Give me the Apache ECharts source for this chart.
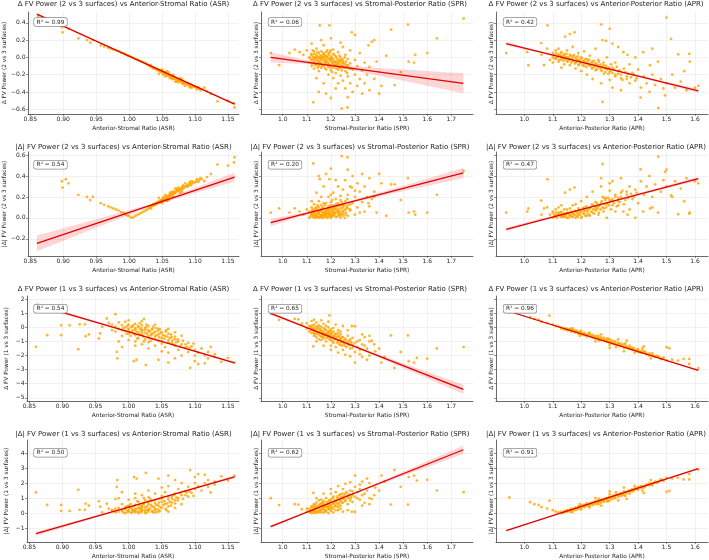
<!DOCTYPE html>
<html>
<head>
<meta charset="utf-8">
<script src="https://cdn.jsdelivr.net/npm/echarts@6/dist/echarts.min.js"></script>
<style>
html, body { margin: 0; padding: 0; background: #fff; }
#chart { width: 709px; height: 560px; }
</style>
</head>
<body>
<div id="chart"></div>
<script>
// ---- data ----
// x tick labels per column, y tick labels per row
const xTicksAsr = [0.85, 0.9, 0.95, 1.0, 1.05, 1.1, 1.15];
const xTicksSpr = [1.0, 1.1, 1.2, 1.3, 1.4, 1.5, 1.6, 1.7];
const xTicksApr = [1.0, 1.1, 1.2, 1.3, 1.4, 1.5, 1.6];
const yTicks23 = [-0.6, -0.4, -0.2, 0.0, 0.2, 0.4];
const yTicksAbs23 = [-0.2, 0.0, 0.2, 0.4, 0.6];
const yTicks13 = [-5, -4, -3, -2, -1, 0, 1, 2];
const yTicksAbs13 = [-1, 0, 1, 2, 3, 4];

const rowNames = ["Δ FV Power (2 vs 3 surfaces)", "|Δ| FV Power (2 vs 3 surfaces)",
  "Δ FV Power (1 vs 3 surfaces)", "|Δ| FV Power (1 vs 3 surfaces)"];
const colNames = ["Anterior-Stromal Ratio (ASR)", "Stromal-Posterior Ratio (SPR)", "Anterior-Posterior Ratio (APR)"];
const r2 = ["0.99", "0.06", "0.42", "0.54", "0.20", "0.47", "0.54", "0.65", "0.96", "0.50", "0.62", "0.91"];

// Δ FV power (2 vs 3 surfaces) against each ratio
const asr23 = [[0.862,0.48],[0.898,0.35],[0.899,0.29],[0.904,0.37],[0.908,0.33],[0.923,0.22],[0.936,0.2],[0.941,0.17],[0.945,0.2],[0.957,0.14],
  [0.962,0.125],[0.968,0.11],[0.972,0.1],[0.976,0.09],[0.98,0.08],[0.984,0.07],[0.988,0.055],[0.992,0.045],[0.995,0.03],[0.998,0.02],
  [1.001,0.012],[1.004,0.0],[1.007,-0.008],[1.01,-0.02],[1.013,-0.03],[1.016,-0.04],[1.019,-0.05],[1.022,-0.06],[1.025,-0.07],[1.027,-0.08],
  [1.03,-0.09],[1.032,-0.1],[1.034,-0.11],[1.036,-0.12],[1.038,-0.12],[1.04,-0.135],[1.041,-0.13],[1.043,-0.15],[1.044,-0.14],[1.046,-0.16],
  [1.047,-0.15],[1.049,-0.17],[1.05,-0.18],[1.052,-0.17],[1.053,-0.19],[1.055,-0.18],[1.056,-0.2],[1.058,-0.21],[1.06,-0.2],[1.061,-0.22],
  [1.063,-0.23],[1.065,-0.22],[1.066,-0.24],[1.068,-0.25],[1.07,-0.24],[1.072,-0.26],[1.074,-0.27],[1.076,-0.26],[1.078,-0.28],[1.08,-0.29],
  [1.082,-0.28],[1.085,-0.3],[1.088,-0.31],[1.09,-0.32],[1.093,-0.31],[1.096,-0.33],[1.1,-0.34],[1.103,-0.37],[1.106,-0.36],[1.11,-0.37],
  [1.114,-0.35],[1.118,-0.39],[1.124,-0.42],[1.134,-0.51],[1.15,-0.5],[1.159,-0.53],[1.16,-0.58],[1.045,-0.19],[1.055,-0.22],[1.065,-0.25],
  [1.075,-0.29],[1.085,-0.33],[1.095,-0.35],[1.07,-0.28],[1.05,-0.14],[1.06,-0.17],[1.08,-0.25]];
const asr23Core = [[1.031,-0.1],[1.033,-0.09],[1.035,-0.115],[1.037,-0.13],[1.039,-0.125],[1.042,-0.14],[1.048,-0.165],[1.051,-0.16],[1.054,-0.175],[1.057,-0.19],
  [1.059,-0.2],[1.062,-0.21],[1.064,-0.215],[1.067,-0.23],[1.069,-0.235],[1.071,-0.25],[1.073,-0.255],[1.077,-0.27],[1.079,-0.27],[1.081,-0.3],
  [1.083,-0.29],[1.087,-0.3],[1.089,-0.3],[1.092,-0.33],[1.094,-0.32],[1.098,-0.34],[1.102,-0.35],[1.105,-0.345],[1.108,-0.38],[1.052,-0.2],
  [1.062,-0.24],[1.072,-0.28],[1.082,-0.31],[1.092,-0.345],[1.057,-0.16],[1.067,-0.2],[1.077,-0.24]];

const spr23 = [[0.951,0.05],[0.985,-0.09],[1.028,0.05],[1.05,0.09],[1.07,0.06],[1.086,0.03],[1.1,0.08],[1.127,-0.52],[1.15,-0.4],[1.154,0.37],
  [1.194,0.37],[1.2,-0.47],[1.245,-0.59],[1.269,-0.58],[1.287,0.29],[1.3,0.26],[1.356,0.14],[1.37,0.18],[1.38,0.2],[1.41,-0.33],
  [1.43,0.02],[1.45,0.32],[1.465,-0.32],[1.49,-0.17],[1.52,0.38],[1.523,-0.05],[1.545,-0.06],[1.55,0.03],[1.6,0.05],[1.64,0.22],[1.751,0.45],
  [1.11,0.0],[1.11,-0.06],[1.12,0.04],[1.12,-0.03],[1.12,-0.1],[1.13,0.07],[1.13,0.0],[1.13,-0.05],[1.13,-0.13],[1.14,0.03],
  [1.14,-0.02],[1.14,-0.08],[1.14,0.1],[1.15,0.05],[1.15,0.0],[1.15,-0.04],[1.15,-0.1],[1.15,-0.16],[1.16,0.07],[1.16,0.02],
  [1.16,-0.02],[1.16,-0.06],[1.16,-0.12],[1.17,0.04],[1.17,0.0],[1.17,-0.04],[1.17,-0.09],[1.17,0.14],[1.18,0.06],[1.18,0.01],
  [1.18,-0.03],[1.18,-0.07],[1.18,-0.14],[1.19,0.03],[1.19,-0.01],[1.19,-0.06],[1.19,-0.11],[1.19,-0.2],[1.2,0.08],[1.2,0.0],
  [1.2,-0.04],[1.2,-0.09],[1.2,-0.15],[1.21,0.04],[1.21,-0.02],[1.21,-0.07],[1.21,-0.12],[1.21,-0.24],[1.22,0.01],[1.22,-0.05],
  [1.22,-0.1],[1.22,-0.18],[1.23,0.06],[1.23,-0.03],[1.23,-0.08],[1.23,-0.14],[1.23,-0.3],[1.24,0.0],[1.24,-0.06],[1.24,-0.12],
  [1.24,-0.21],[1.25,0.12],[1.25,-0.04],[1.25,-0.1],[1.25,-0.27],[1.26,0.03],[1.26,-0.08],[1.26,-0.16],[1.26,-0.36],[1.27,-0.02],
  [1.27,-0.12],[1.27,-0.22],[1.28,0.08],[1.28,-0.07],[1.28,-0.3],[1.29,-0.14],[1.29,-0.4],[1.3,-0.03],[1.3,-0.2],[1.31,-0.1],
  [1.31,-0.33],[1.32,0.05],[1.32,-0.25],[1.33,-0.15],[1.33,-0.42],[1.34,-0.06],[1.34,-0.3],[1.35,-0.2],[1.36,-0.11],[1.36,-0.38],
  [1.38,-0.25],[1.39,-0.05],[1.4,-0.42],[1.12,0.16],[1.16,0.2],[1.2,0.22],[1.24,0.17],[1.14,-0.24],[1.17,-0.3],[1.22,-0.36],
  [1.18,-0.42],[1.27,-0.46]];
const spr23Core = [[1.115,-0.01],[1.118,0.03],[1.122,-0.07],[1.125,0.01],[1.128,-0.02],[1.132,0.04],[1.135,-0.09],[1.138,0.0],[1.142,-0.04],[1.145,0.06],
  [1.148,-0.01],[1.152,-0.07],[1.155,0.02],[1.158,-0.03],[1.162,0.0],[1.165,-0.1],[1.168,0.05],[1.172,-0.02],[1.175,-0.06],[1.178,0.02],
  [1.182,-0.04],[1.185,0.0],[1.188,-0.09],[1.192,0.04],[1.195,-0.03],[1.198,-0.12],[1.202,0.01],[1.205,-0.06],[1.208,-0.02],[1.212,-0.09],
  [1.215,0.03],[1.218,-0.05],[1.222,-0.13],[1.225,-0.01],[1.228,-0.07],[1.232,-0.11],[1.235,0.02],[1.238,-0.04],[1.242,-0.09],[1.245,-0.15],
  [1.248,-0.02],[1.252,-0.07],[1.255,-0.12],[1.258,0.0],[1.262,-0.05],[1.265,-0.1],[1.268,-0.18],[1.13,-0.02],[1.14,0.01],[1.15,-0.06],
  [1.16,-0.01],[1.17,0.02],[1.18,-0.05],[1.19,-0.08],[1.2,-0.02],[1.21,-0.05],[1.22,-0.08],[1.23,-0.05],[1.24,-0.03],[1.25,-0.06],
  [1.16,-0.08],[1.175,-0.12],[1.185,0.08],[1.195,0.06],[1.205,-0.17],[1.145,-0.12],[1.125,0.08],[1.21,0.09],[1.27,-0.09],[1.28,-0.13]];

const apr23 = [[0.936,0.05],[1.01,0.06],[1.014,-0.09],[1.059,0.165],[1.069,-0.09],[1.081,0.37],[1.143,0.24],[1.16,0.27],[1.176,0.29],[1.27,0.38],
  [1.275,-0.515],[1.3,0.33],[1.287,0.19],[1.275,0.2],[1.31,0.16],[1.33,0.12],[1.348,0.06],[1.363,0.03],[1.39,0.0],[1.418,0.06],
  [1.442,-0.09],[1.409,-0.465],[1.471,-0.585],[1.5,0.46],[1.516,0.215],[1.541,0.035],[1.58,0.04],[1.562,-0.16],[1.582,-0.05],[1.612,-0.33],
  [1.495,-0.44],[1.489,-0.36],[1.45,0.1],[1.47,-0.05],[1.52,-0.2],[1.55,-0.28],[1.6,-0.35],[1.57,-0.38],
  [1.1,0.05],[1.1,0.0],[1.11,0.08],[1.11,-0.02],[1.12,0.03],[1.12,-0.05],[1.12,0.1],[1.13,0.01],[1.13,-0.03],[1.13,0.06],
  [1.14,-0.01],[1.14,0.04],[1.14,-0.08],[1.15,0.0],[1.15,-0.04],[1.15,0.08],[1.16,-0.02],[1.16,0.03],[1.16,-0.09],[1.17,-0.04],
  [1.17,0.01],[1.17,0.12],[1.18,-0.06],[1.18,0.0],[1.18,-0.13],[1.19,-0.03],[1.19,0.05],[1.19,-0.09],[1.2,-0.06],[1.2,0.0],
  [1.2,-0.16],[1.21,-0.04],[1.21,-0.1],[1.21,0.07],[1.22,-0.07],[1.22,-0.02],[1.22,-0.2],[1.23,-0.09],[1.23,0.02],[1.24,-0.12],
  [1.24,-0.05],[1.24,-0.25],[1.25,-0.08],[1.25,-0.15],[1.25,0.1],[1.26,-0.11],[1.26,-0.03],[1.27,-0.14],[1.27,-0.3],[1.28,-0.09],
  [1.28,-0.19],[1.29,-0.13],[1.29,0.0],[1.3,-0.17],[1.3,-0.26],[1.31,-0.12],[1.31,-0.35],[1.32,-0.2],[1.32,-0.06],[1.33,-0.16],
  [1.34,-0.24],[1.34,-0.38],[1.35,-0.13],[1.36,-0.22],[1.37,-0.3],[1.37,-0.08],[1.38,-0.18],[1.39,-0.27],[1.4,-0.14],[1.41,-0.35],
  [1.42,-0.22],[1.43,-0.3],[1.44,-0.4],[1.45,-0.2],[1.46,-0.32],[1.48,-0.25],[1.5,-0.3],[1.53,-0.35],[1.1,-0.06],[1.13,-0.12],
  [1.06,0.03],[1.08,0.1],[1.09,-0.03]];
const apr23Core = [[1.105,0.03],[1.108,-0.01],[1.112,0.05],[1.115,0.0],[1.118,0.03],[1.122,-0.03],[1.125,0.02],[1.128,0.05],[1.132,-0.01],[1.135,0.02],
  [1.138,-0.04],[1.142,0.01],[1.145,-0.02],[1.148,0.04],[1.152,-0.05],[1.155,0.0],[1.158,-0.03],[1.162,0.02],[1.165,-0.06],[1.168,-0.01],
  [1.172,-0.04],[1.175,0.03],[1.178,-0.07],[1.182,-0.02],[1.185,-0.05],[1.188,0.01],[1.192,-0.08],[1.195,-0.03],[1.198,-0.06],[1.202,-0.01],
  [1.205,-0.09],[1.208,-0.04],[1.212,-0.07],[1.215,-0.02],[1.218,-0.11],[1.222,-0.05],[1.225,-0.08],[1.228,-0.03],[1.232,-0.1],[1.235,-0.06],
  [1.238,-0.13],[1.242,-0.08],[1.245,-0.04],[1.248,-0.11],[1.252,-0.07],[1.255,-0.14],[1.258,-0.09],[1.262,-0.05],[1.265,-0.12],[1.268,-0.08],
  [1.272,-0.16],[1.275,-0.1],[1.278,-0.06],[1.282,-0.13],[1.285,-0.17],[1.288,-0.1],[1.292,-0.14],[1.295,-0.19],[1.298,-0.12],[1.302,-0.16],
  [1.305,-0.08],[1.31,-0.18],[1.315,-0.14],[1.32,-0.22],[1.325,-0.11],[1.33,-0.19],[1.335,-0.15],[1.34,-0.2],[1.345,-0.26],[1.355,-0.17],
  [1.36,-0.25],[1.365,-0.19],[1.375,-0.23],[1.385,-0.2],[1.395,-0.24]];

// Δ FV power (1 vs 3 surfaces) against each ratio
const asr13 = [[0.86,-1.38],[0.877,-0.55],[0.898,0.15],[0.898,-0.55],[0.911,0.15],[0.924,-1.55],[0.926,0.22],[0.934,0.22],[0.935,-0.63],[0.94,-0.5],
  [0.955,-0.79],[0.957,-0.43],[0.96,0.05],[0.967,0.63],[0.97,0.3],[0.975,-0.2],[0.98,0.94],[0.982,-1.74],[0.983,-2.2],[0.99,-1.4],
  [1.008,-2.4],[1.012,-2.3],[1.023,0.6],[1.026,-2.68],[1.045,-2.3],[1.06,-2.5],[1.07,-2.2],[1.088,-1.38],[1.093,-2.87],[1.1,-2.4],
  [1.105,-2.6],[1.115,-2.55],[1.124,-1.38],[1.13,-2.1],[1.15,-2.16],[1.16,-2.5],[1.14,-2.45],[1.12,-2.2],
  [0.975,0.2],[0.98,0.05],[0.98,-0.3],[0.985,0.35],[0.985,-0.1],[0.99,0.15],[0.99,-0.2],[0.99,-0.6],[0.995,0.0],[0.995,0.4],
  [1.0,-0.1],[1.0,0.2],[1.0,-0.45],[1.0,-0.9],[1.005,0.05],[1.005,-0.3],[1.01,-0.15],[1.01,0.25],[1.01,-0.55],[1.01,-1.0],
  [1.015,0.0],[1.015,-0.35],[1.015,-0.75],[1.02,-0.2],[1.02,0.15],[1.02,-0.5],[1.02,-1.2],[1.025,-0.05],[1.025,-0.4],[1.025,-0.85],
  [1.03,-0.25],[1.03,-0.6],[1.03,0.1],[1.03,-1.05],[1.035,-0.45],[1.035,-0.15],[1.035,-0.8],[1.04,-0.3],[1.04,-0.65],[1.04,-1.3],
  [1.045,-0.5],[1.045,-0.1],[1.045,-0.95],[1.05,-0.75],[1.05,-0.35],[1.05,-1.15],[1.055,-0.6],[1.055,-1.4],[1.06,-0.9],[1.06,-0.45],
  [1.065,-1.1],[1.065,-0.7],[1.07,-1.3],[1.07,-0.85],[1.075,-1.0],[1.075,-1.6],[1.08,-1.2],[1.08,-0.6],[1.085,-1.45],[1.09,-1.1],
  [1.09,-1.75],[1.095,-1.35],[1.1,-1.6],[1.1,-2.0],[1.105,-1.8],[1.11,-1.5],[1.115,-2.0],[1.12,-1.75],[1.13,-1.9],[1.05,-1.7],
  [1.03,-1.5],[1.01,-1.3],[1.0,0.5],[1.02,0.45],[1.04,0.2],[1.06,-0.1],[1.07,-0.35],[0.985,-1.0],[1.06,-1.8],[1.08,-2.0]];
const asr13Core = [[0.992,-0.05],[0.995,-0.25],[0.998,0.1],[1.0,-0.15],[1.002,-0.35],[1.004,0.02],[1.006,-0.2],[1.008,-0.45],[1.01,-0.05],[1.012,-0.3],
  [1.014,0.1],[1.016,-0.5],[1.018,-0.15],[1.02,-0.35],[1.022,-0.65],[1.024,-0.2],[1.026,0.0],[1.028,-0.45],[1.03,-0.75],[1.032,-0.3],
  [1.034,-0.55],[1.036,-0.1],[1.038,-0.4],[1.04,-0.85],[1.042,-0.55],[1.044,-0.25],[1.046,-0.7],[1.048,-0.4],[1.05,-0.95],[1.052,-0.55],
  [1.054,-0.8],[1.056,-0.3],[1.058,-0.65],[1.06,-1.05],[1.062,-0.75],[1.064,-0.5],[1.066,-0.95],[1.068,-1.2],[1.07,-0.65],[1.072,-1.05],
  [1.074,-0.85],[1.078,-1.35],[1.082,-0.95],[1.086,-1.2],[1.092,-1.45],[1.098,-1.15],[1.003,-0.6],[1.013,-0.8],[1.023,-1.0],[1.033,-0.95],
  [1.007,0.15],[1.017,0.3],[1.027,0.2],[1.037,0.05],[1.047,-0.15],[1.057,-0.2],[0.997,-0.45],[1.019,-0.05],[1.029,-0.2],[1.041,-0.05]];

const spr13 = [[0.951,1.0],[0.985,0.54],[1.05,0.6],[1.065,0.57],[1.08,0.26],[1.127,-1.35],[1.194,0.85],[1.287,0.1],[1.3,0.08],[1.34,-0.69],
  [1.36,-0.6],[1.37,-0.95],[1.384,-1.7],[1.4,-1.5],[1.423,-2.1],[1.449,-0.57],[1.52,-0.57],[1.49,-1.75],[1.41,-2.5],[1.464,-2.88],
  [1.523,-2.4],[1.545,-2.5],[1.557,-2.17],[1.6,-2.22],[1.64,-1.5],[1.751,-1.4],[1.35,-2.3],[1.33,-2.1],[1.3,-2.5],[1.32,-1.9],
  [1.34,-1.3],[1.36,-2.0],[1.38,-1.2],[1.31,-1.0],[1.33,-0.5],
  [1.1,0.3],[1.1,-0.1],[1.11,0.1],[1.11,-0.3],[1.12,0.45],[1.12,0.0],[1.12,-0.4],[1.13,0.2],[1.13,-0.15],[1.13,-0.6],
  [1.14,0.05],[1.14,-0.3],[1.14,0.35],[1.15,-0.1],[1.15,-0.5],[1.15,0.15],[1.15,-0.85],[1.16,-0.25],[1.16,0.05],[1.16,-0.65],
  [1.17,-0.4],[1.17,-0.05],[1.17,-0.8],[1.17,0.25],[1.18,-0.55],[1.18,-0.2],[1.18,-1.0],[1.19,-0.35],[1.19,-0.7],[1.19,0.0],
  [1.2,-0.5],[1.2,-0.9],[1.2,-0.15],[1.2,-1.3],[1.21,-0.65],[1.21,-0.3],[1.21,-1.1],[1.22,-0.8],[1.22,-0.45],[1.22,-1.4],
  [1.23,-0.6],[1.23,-1.0],[1.23,-0.2],[1.24,-0.85],[1.24,-1.25],[1.24,-0.5],[1.25,-1.05],[1.25,-0.7],[1.25,-1.6],[1.26,-0.9],
  [1.26,-1.3],[1.27,-0.6],[1.27,-1.15],[1.28,-1.0],[1.28,-1.5],[1.29,-1.25],[1.29,-0.75],[1.3,-1.1],[1.3,-1.75],[1.31,-1.4],
  [1.32,-0.9],[1.32,-1.6],[1.33,-1.2],[1.35,-1.5],[1.36,-1.0],[1.13,0.55],[1.16,0.5],[1.19,0.4],[1.22,0.2],[1.25,0.1],
  [1.27,-0.2],[1.14,-1.0],[1.17,-1.3],[1.2,-1.6],[1.23,-1.8],[1.26,-1.95],[1.28,-2.05]];
const spr13Core = [[1.115,0.05],[1.118,-0.2],[1.122,0.15],[1.125,-0.1],[1.128,-0.35],[1.132,0.0],[1.135,-0.25],[1.138,-0.5],[1.142,-0.1],[1.145,-0.4],
  [1.148,0.05],[1.152,-0.3],[1.155,-0.6],[1.158,-0.15],[1.162,-0.45],[1.165,-0.7],[1.168,-0.3],[1.172,-0.55],[1.175,-0.15],[1.178,-0.45],
  [1.182,-0.75],[1.185,-0.4],[1.188,-0.6],[1.192,-0.25],[1.195,-0.85],[1.198,-0.55],[1.202,-0.75],[1.205,-0.4],[1.208,-1.0],[1.212,-0.6],
  [1.215,-0.85],[1.218,-0.5],[1.222,-0.7],[1.225,-1.1],[1.228,-0.9],[1.232,-0.65],[1.235,-1.2],[1.238,-0.8],[1.242,-1.05],[1.245,-0.7],
  [1.248,-1.3],[1.252,-0.95],[1.255,-1.15],[1.26,-0.8],[1.265,-1.4],[1.27,-1.0],[1.275,-1.25],[1.28,-0.85],[1.285,-1.1],[1.29,-1.45],
  [1.14,-0.7],[1.16,-0.9],[1.18,0.1],[1.2,-0.3],[1.21,-0.05],[1.24,-0.3],[1.13,-0.45],[1.17,-0.6],[1.19,-0.5],[1.23,-0.4]];

const apr13 = [[0.947,1.05],[1.02,0.73],[1.035,0.6],[1.05,0.55],[1.06,0.4],[1.088,0.83],[1.08,0.3],[1.1,0.2],[1.11,0.1],[1.12,0.05],
  [1.13,0.0],[1.13,-0.1],[1.14,-0.05],[1.14,-0.15],[1.15,-0.1],[1.15,-0.2],[1.16,-0.2],[1.16,-0.1],[1.17,-0.25],[1.17,-0.15],
  [1.18,-0.35],[1.18,-0.2],[1.19,-0.3],[1.19,-0.45],[1.2,-0.4],[1.2,-0.5],[1.2,-0.25],[1.21,-0.55],[1.21,-0.4],[1.22,-0.5],
  [1.22,-0.65],[1.23,-0.6],[1.23,-0.45],[1.24,-0.7],[1.24,-0.55],[1.25,-0.6],[1.25,-0.8],[1.26,-0.75],[1.26,-0.6],[1.27,-0.85],
  [1.27,-0.7],[1.28,-0.9],[1.28,-0.75],[1.29,-1.0],[1.29,-0.8],[1.3,-1.05],[1.3,-0.85],[1.3,-1.25],[1.31,-1.1],[1.31,-0.95],
  [1.32,-1.2],[1.32,-1.0],[1.33,-1.25],[1.33,-1.1],[1.34,-1.3],[1.34,-1.15],[1.35,-1.45],[1.35,-1.2],[1.36,-1.4],[1.37,-1.5],
  [1.37,-1.3],[1.38,-1.6],[1.38,-1.45],[1.39,-1.65],[1.4,-1.75],[1.4,-1.55],[1.41,-1.8],[1.42,-1.7],[1.43,-1.9],[1.44,-2.0],
  [1.45,-1.85],[1.46,-2.1],[1.47,-2.05],[1.48,-2.25],[1.49,-2.15],[1.5,-1.41],[1.51,-1.48],[1.5,-2.35],[1.52,-2.3],[1.54,-2.36],
  [1.56,-2.24],[1.58,-2.24],[1.58,-2.6],[1.612,-2.9],[1.27,-0.5],[1.33,-0.85],[1.36,-0.95],[1.42,-1.35],[1.3,-1.45],[1.25,-1.0],
  [1.35,-1.7]];
const apr13Core = [[1.145,-0.1],[1.152,-0.2],[1.158,-0.15],[1.165,-0.3],[1.172,-0.22],[1.178,-0.35],[1.185,-0.28],[1.192,-0.42],[1.198,-0.35],[1.205,-0.5],
  [1.212,-0.45],[1.218,-0.58],[1.225,-0.52],[1.232,-0.66],[1.238,-0.6],[1.245,-0.73],[1.252,-0.68],[1.258,-0.82],[1.265,-0.76],[1.272,-0.9],
  [1.278,-0.84],[1.285,-0.98],[1.292,-0.92],[1.298,-1.06],[1.305,-1.0],[1.312,-1.15],[1.318,-1.08],[1.325,-1.22],[1.332,-1.17],[1.338,-1.3],
  [1.345,-1.25],[1.352,-1.4],[1.358,-1.33],[1.365,-1.48],[1.372,-1.42],[1.378,-1.55],[1.385,-1.5],[1.392,-1.63],[1.398,-1.58],[1.405,-1.72],
  [1.412,-1.68],[1.418,-1.8],[1.425,-1.75],[1.432,-1.88],[1.44,-1.85],[1.448,-1.95],[1.455,-2.0],[1.465,-2.02],[1.475,-2.15],[1.485,-2.2],
  [1.168,-0.05],[1.195,-0.6],[1.228,-0.38],[1.262,-0.95],[1.295,-0.8],[1.322,-1.4],[1.355,-1.15],[1.388,-1.8],[1.415,-1.5],[1.445,-2.2]];

// fitted regression lines (end points) and confidence bands [x, lower, upper]
const fit23Asr = [[0.86, 0.5], [1.16, -0.54]];
const fit23Spr = [[0.95, 0.0], [1.75, -0.3]];
const fit23Apr = [[0.936, 0.158], [1.612, -0.388]];
const fitAbs23Asr = [[0.86, -0.245], [1.16, 0.39]];
const fitAbs23Spr = [[0.95, -0.045], [1.75, 0.43]];
const fitAbs23Apr = [[0.936, -0.11], [1.612, 0.375]];
const fit13Asr = [[0.86, 1.62], [1.16, -2.52]];
const fit13Spr = [[0.95, 1.0], [1.75, -4.4]];
const fit13Apr = [[0.936, 1.2], [1.612, -3.05]];
const fitAbs13Asr = [[0.86, -1.37], [1.16, 2.42]];
const fitAbs13Spr = [[0.95, -0.9], [1.75, 4.22]];
const fitAbs13Apr = [[0.936, -1.16], [1.612, 2.97]];

const band23Asr = [[0.86,0.49,0.51],[0.93,0.252,0.262],[1.02,-0.058,-0.052],[1.09,-0.301,-0.293],[1.16,-0.55,-0.53]];
const band23Spr = [[0.95,-0.058,0.058],[1.1,-0.078,-0.034],[1.2,-0.106,-0.082],[1.35,-0.185,-0.115],[1.55,-0.3,-0.15],[1.75,-0.415,-0.185]];
const band23Apr = [[0.936,0.138,0.178],[1.05,0.055,0.077],[1.2,-0.06,-0.05],[1.4,-0.228,-0.206],[1.612,-0.408,-0.368]];
const bandAbs23Asr = [[0.86,-0.32,-0.17],[0.95,-0.094,-0.014],[1.03,0.103,0.127],[1.1,0.238,0.288],[1.16,0.345,0.435]];
const bandAbs23Spr = [[0.95,-0.08,-0.01],[1.1,0.032,0.056],[1.2,0.096,0.112],[1.35,0.178,0.208],[1.55,0.281,0.341],[1.75,0.38,0.48]];
const bandAbs23Apr = [[0.936,-0.126,-0.094],[1.05,-0.036,-0.012],[1.2,0.075,0.083],[1.4,0.213,0.233],[1.612,0.357,0.393]];
const band13Asr = [[0.86,1.47,1.77],[0.93,0.574,0.734],[1.02,-0.618,-0.558],[1.09,-1.604,-1.504],[1.16,-2.62,-2.42]];
const band13Spr = [[0.95,0.88,1.12],[1.1,-0.063,0.037],[1.2,-0.718,-0.658],[1.35,-1.78,-1.62],[1.55,-3.25,-2.85],[1.75,-4.73,-4.07]];
const band13Apr = [[0.936,1.14,1.26],[1.05,0.453,0.513],[1.2,-0.475,-0.445],[1.4,-1.74,-1.69],[1.612,-3.11,-2.99]];
const bandAbs13Asr = [[0.86,-1.51,-1.23],[0.93,-0.566,-0.406],[1.02,0.621,0.681],[1.09,1.485,1.585],[1.16,2.32,2.52]];
const bandAbs13Spr = [[0.95,-1.0,-0.8],[1.1,0.02,0.1],[1.2,0.675,0.725],[1.35,1.59,1.73],[1.55,2.77,3.11],[1.75,3.94,4.5]];
const bandAbs13Apr = [[0.936,-1.22,-1.1],[1.05,-0.494,-0.434],[1.2,0.438,0.468],[1.4,1.65,1.7],[1.612,2.91,3.03]];

// ---- layout ----
const FONT = "DejaVu Sans";
const colLeft = [27, 261, 496];
const plotW = 212;
const rowTop = [12, 152, 296, 440];
const rowH = [102, 104, 105, 103];
const titleX = [123.5, 360, 596];
const titleTop = [1, 143.5, 286, 430.5];
const boxY = [22, 164.7, 308.8, 452.8];
const boxX = [50.5, 285, 520];

const xCols = [
  { min: 0.8465, max: 1.1667, ticks: xTicksAsr, dec: 2 },
  { min: 0.91, max: 1.79, ticks: xTicksSpr, dec: 1 },
  { min: 0.9, max: 1.646, ticks: xTicksApr, dec: 1 }
];
const yRows = [
  { min: -0.655, max: 0.525, ticks: yTicks23, dec: 1 },
  { min: -0.365, max: 0.63, ticks: yTicksAbs23, dec: 1 },
  { min: -5.23, max: 2.23, ticks: yTicks13, dec: 0 },
  { min: -1.92, max: 4.87, ticks: yTicksAbs13, dec: 0 }
];

const absOf = d => d.map(p => [p[0], Math.abs(p[1])]);
const d23Asr = asr23.concat(asr23Core), d23Spr = spr23.concat(spr23Core), d23Apr = apr23.concat(apr23Core);
const d13Asr = asr13.concat(asr13Core), d13Spr = spr13.concat(spr13Core), d13Apr = apr13.concat(apr13Core);
const points = [d23Asr, d23Spr, d23Apr, absOf(d23Asr), absOf(d23Spr), absOf(d23Apr),
  d13Asr, d13Spr, d13Apr, absOf(d13Asr), absOf(d13Spr), absOf(d13Apr)];
const fits = [fit23Asr, fit23Spr, fit23Apr, fitAbs23Asr, fitAbs23Spr, fitAbs23Apr,
  fit13Asr, fit13Spr, fit13Apr, fitAbs13Asr, fitAbs13Spr, fitAbs13Apr];
const bands = [band23Asr, band23Spr, band23Apr, bandAbs23Asr, bandAbs23Spr, bandAbs23Apr,
  band13Asr, band13Spr, band13Apr, bandAbs13Asr, bandAbs13Spr, bandAbs13Apr];

const fmt = dec => v => v.toFixed(dec).replace("-", "\u2212");

const grid = [], xAxis = [], yAxis = [], title = [], series = [], graphic = [];

for (let r = 0; r < 4; r++) {
  for (let c = 0; c < 3; c++) {
    const i = r * 3 + c;
    const xc = xCols[c], yr = yRows[r];
    grid.push({ left: colLeft[c], top: rowTop[r], width: plotW, height: rowH[r] });

    xAxis.push({
      type: "value", gridIndex: i, min: xc.min, max: xc.max,
      name: colNames[c], nameLocation: "middle", nameGap: 11,
      nameTextStyle: { fontSize: 5.8, color: "#262626", fontFamily: FONT },
      axisLine: { show: true, onZero: false, lineStyle: { color: "#444", width: 0.8 } },
      axisTick: { show: true, length: 2, customValues: xc.ticks, lineStyle: { color: "#444", width: 0.6 } },
      axisLabel: { customValues: xc.ticks, formatter: fmt(xc.dec), fontSize: 6, color: "#262626", margin: 2.5, fontFamily: FONT },
      splitLine: { show: true, lineStyle: { color: "#e8e8e8", width: 0.6 } }
    });

    yAxis.push({
      type: "value", gridIndex: i, min: yr.min, max: yr.max,
      name: rowNames[r], nameLocation: "middle", nameRotate: 90, nameGap: c === 0 ? 18 : 2,
      nameTextStyle: { fontSize: 5.8, color: "#262626", fontFamily: FONT },
      axisLine: { show: true, onZero: false, lineStyle: { color: "#444", width: 0.8 } },
      axisTick: { show: true, length: 2, customValues: yr.ticks, lineStyle: { color: "#444", width: 0.6 } },
      axisLabel: { show: c === 0, customValues: yr.ticks, formatter: fmt(yr.dec), fontSize: 6, color: "#262626", margin: 2.5, fontFamily: FONT },
      splitLine: { show: true, lineStyle: { color: "#e8e8e8", width: 0.6 } }
    });

    title.push({
      text: rowNames[r] + " vs " + colNames[c],
      left: titleX[c], top: titleTop[r], textAlign: "center", padding: 0,
      textStyle: { fontSize: 7, fontWeight: "normal", color: "#222", fontFamily: FONT }
    });

    series.push({
      type: "scatter", xAxisIndex: i, yAxisIndex: i, data: points[i],
      symbolSize: 2.8, silent: true, z: 2,
      itemStyle: { color: "#ffa500", opacity: 0.8 }
    });

    const band = bands[i];
    series.push({
      type: "custom", xAxisIndex: i, yAxisIndex: i, data: band, silent: true, z: 3,
      renderItem: function (params, api) {
        if (params.dataIndex !== 0) return null;
        const pts = [];
        band.forEach(b => pts.push(api.coord([b[0], b[2]])));
        band.slice().reverse().forEach(b => pts.push(api.coord([b[0], b[1]])));
        return { type: "polygon", shape: { points: pts }, style: { fill: "rgba(255,0,0,0.16)" } };
      }
    });

    series.push({
      type: "line", xAxisIndex: i, yAxisIndex: i, data: fits[i],
      showSymbol: false, silent: true, z: 4,
      lineStyle: { color: "#e00000", width: 1.3 }
    });

    graphic.push({
      type: "text", x: boxX[c], y: boxY[r], z: 100,
      style: {
        text: "R² = " + r2[i], fontSize: 5.8, fontFamily: FONT, fill: "#262626",
        align: "center", verticalAlign: "middle",
        backgroundColor: "#fff", borderColor: "#8c8c8c", borderWidth: 0.7, borderRadius: 2,
        padding: [1, 2.5]
      }
    });
  }
}

const chart = echarts.init(document.getElementById("chart"));
chart.setOption({
  animation: false,
  backgroundColor: "#fff",
  title, grid, xAxis, yAxis, series, graphic
});
</script>
</body>
</html>
